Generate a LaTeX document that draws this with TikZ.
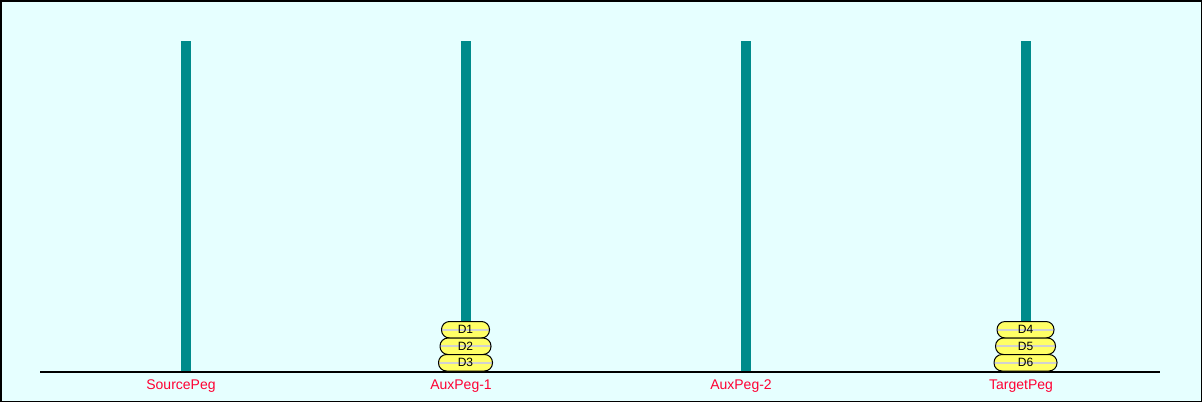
\documentclass[tikz,border=0pt]{standalone}
\usepackage{fontspec}
\setmainfont{Liberation Sans}
\definecolor{bgcyan}{RGB}{230,255,255}
\definecolor{pegteal}{RGB}{0,139,139}
\definecolor{diskyellow}{RGB}{255,255,102}
\definecolor{labelred}{RGB}{255,0,51}
\tikzset{
  disk/.style={draw=black,line width=1pt,fill=diskyellow,rounded corners=8pt,minimum height=16.5pt,
    inner sep=0pt,font=\fontsize{12}{14}\selectfont,
    path picture={\draw[black!18,line width=2pt] (path picture bounding box.west) -- (path picture bounding box.east);}},
  peglabel/.style={text=labelred,font=\fontsize{14}{16}\selectfont,inner sep=0pt}
}
\begin{document}
\begin{tikzpicture}[x=1pt,y=-1pt]
 \useasboundingbox (0,0) rectangle (1202,402);
 \draw[fill=bgcyan,line width=1.5pt](0.75,0.75) rectangle (1201.25,401.25);
 % pegs
 \fill[pegteal](181,41) rectangle (191,371);
 \fill[pegteal](461,41) rectangle (471,371);
 \fill[pegteal](741,41) rectangle (751,371);
 \fill[pegteal](1021,41) rectangle (1031,371);
 % base line
 \draw[line width=2pt](40,371.5)--(1160,371.5);
 % disks
 \node[disk,minimum width=48pt] (d1) at (465.5,329.75) {D1};
 \node[disk,minimum width=51pt] (d2) at (465.5,346.25) {D2};
 \node[disk,minimum width=54pt] (d3) at (465.5,362.75) {D3};
 \node[disk,minimum width=57pt] (d4) at (1025.5,329.75) {D4};
 \node[disk,minimum width=60pt] (d5) at (1025.5,346.25) {D5};
 \node[disk,minimum width=63pt] (d6) at (1025.5,362.75) {D6};
 % labels
 \node[peglabel] (source) at (181,386) {SourcePeg};
 \node[peglabel] (aux1) at (461,386) {AuxPeg-1};
 \node[peglabel] (aux2) at (741,386) {AuxPeg-2};
 \node[peglabel] (target) at (1021,386) {TargetPeg};
\end{tikzpicture}
\end{document}
